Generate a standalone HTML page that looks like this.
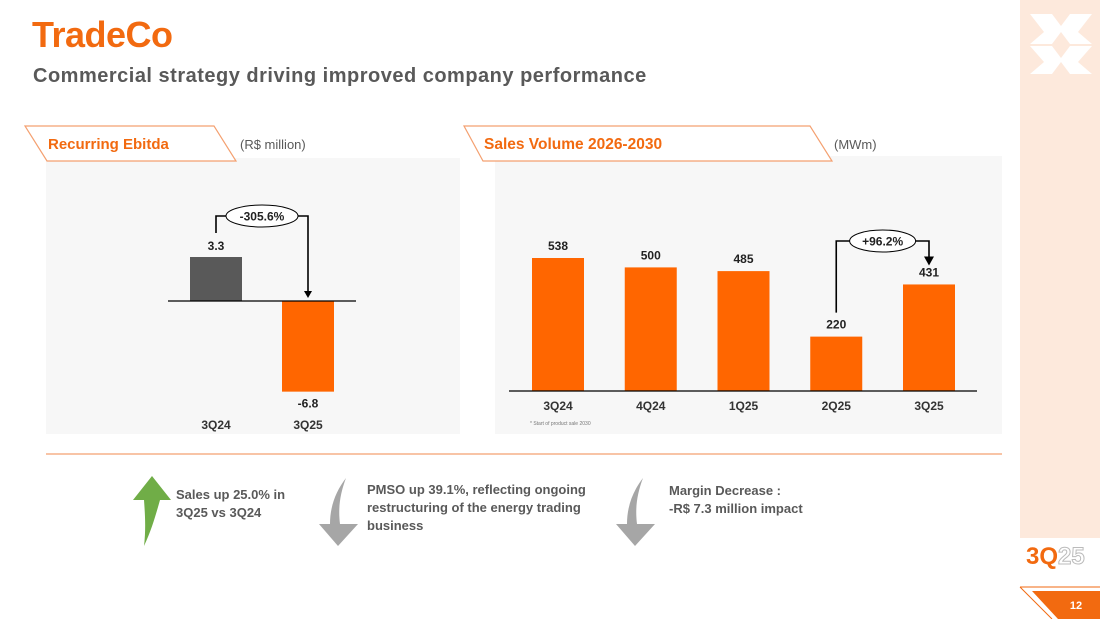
<!DOCTYPE html>
<html><head><meta charset="utf-8"><style>
body{margin:0;width:1100px;height:619px;background:#fff;font-family:"Liberation Sans",sans-serif;overflow:hidden;position:relative}
.a{position:absolute}
.t{font-weight:bold;color:#595959;font-size:13px;line-height:18px}
</style></head><body>
<div class="a" style="left:32px;top:14px;font-size:36px;font-weight:bold;color:#f26a10;letter-spacing:-0.5px">TradeCo</div>
<div class="a" style="left:33px;top:65px;font-size:20px;font-weight:bold;color:#595959;letter-spacing:0.5px">Commercial strategy driving improved company performance</div>
<div class="a" style="left:1020px;top:0;width:80px;height:538px;background:#fde9dc"></div>
<svg class="a" style="left:1028px;top:12px" width="66" height="64" viewBox="0 0 66 64"><g fill="#fff"><polygon points="2,2 24,2 33,14 42,2 64,2 50,20 64,32 42,32 33,20 24,32 2,32 16,20"/><polygon points="2,34 24,34 33,46 42,34 64,34 50,50 64,62 42,62 33,50 24,62 2,62 16,50"/></g></svg>
<div class="a" style="left:1026px;top:543px;font-size:24px;font-weight:bold;color:#f26a10">3Q<span style="color:#fff;-webkit-text-stroke:1px #bbb">25</span></div>
<svg class="a" style="left:1018px;top:585px" width="82" height="34"><line x1="2" y1="2" x2="34" y2="34" stroke="#f26a10"/><line x1="2" y1="2" x2="82" y2="2" stroke="#f26a10"/><polygon points="14,6 82,6 82,34 40,34" fill="#f26a10"/><text x="58" y="24" font-size="11" font-weight="bold" fill="#fff" text-anchor="middle" font-family="Liberation Sans">12</text></svg>
<div class="a" style="left:46px;top:158px;width:414px;height:276px;background:#f7f7f7"></div>
<div class="a" style="left:495px;top:156px;width:507px;height:278px;background:#f7f7f7"></div>
<svg class="a" style="left:0;top:0" width="1100" height="619">
<polygon points="25,126 214,126 236,161 47,161" fill="#fff" stroke="#f4a070" stroke-width="1.2"/>
<polygon points="464,126 810,126 832,161 483,161" fill="#fff" stroke="#f4a070" stroke-width="1.2"/>
<line x1="46" y1="454" x2="1002" y2="454" stroke="#f4a070" stroke-width="1.2"/>
</svg>
<div class="a" style="left:48px;top:136px;font-size:15px;font-weight:bold;color:#f26a10">Recurring Ebitda</div>
<div class="a" style="left:240px;top:137px;font-size:13px;color:#595959">(R$ million)</div>
<div class="a" style="left:484px;top:136px;font-size:15.5px;font-weight:bold;color:#f26a10">Sales Volume 2026-2030</div>
<div class="a" style="left:834px;top:137px;font-size:13px;color:#595959">(MWm)</div>
<svg id="c1" class="a" style="left:0;top:0" width="1100" height="619"></svg>
<svg id="c2" class="a" style="left:0;top:0" width="1100" height="619"></svg>
<div class="a" style="left:530px;top:421px;font-size:5px;color:#777">* Start of product sale 2030</div>
<svg class="a" style="left:130px;top:474px" width="44" height="74"><path d="M3,26 L22,2 L41,26 L30,26 C26,40 22,55 14,72 C16,55 15,40 14,26 Z" fill="#70ad47"/></svg>
<div class="a t" style="left:176px;top:486px">Sales up 25.0% in<br>3Q25 vs 3Q24</div>
<svg class="a" style="left:318px;top:476px" width="42" height="72"><path d="M28,2 C22,18 20,32 22,48 L40,48 L20,70 L1,48 L12,48 C12,30 18,15 28,2 Z" fill="#a6a6a6"/></svg>
<div class="a t" style="left:367px;top:481px">PMSO up 39.1%, reflecting ongoing<br>restructuring of the energy trading<br>business</div>
<svg class="a" style="left:615px;top:476px" width="42" height="72"><path d="M28,2 C22,18 20,32 22,48 L40,48 L20,70 L1,48 L12,48 C12,30 18,15 28,2 Z" fill="#a6a6a6"/></svg>
<div class="a t" style="left:669px;top:482px">Margin Decrease :<br>-R$ 7.3 million impact</div>
<script>
const ebitdaCats=["3Q24","3Q25"];
const ebitdaVals=[3.3,-6.8];
const ebitdaLabels=["3.3","-6.8"];
const ebitdaChange="-305.6%";
const volCats=["3Q24","4Q24","1Q25","2Q25","3Q25"];
const volVals=[538,500,485,220,431];
const volChange="+96.2%";
const NS="http://www.w3.org/2000/svg";
function mk(svg,tag,at,txt){const e=document.createElementNS(NS,tag);for(const k in at)e.setAttribute(k,at[k]);if(txt!==undefined)e.textContent=txt;svg.appendChild(e);return e;}
// chart 1
(function(){
const s=document.getElementById('c1');
const y0=301,k=13.33;const xs=[216,308];const w=52;
const y=v=>y0-v*k;
ebitdaVals.forEach((v,i)=>{
 const r=mk(s,'rect',{x:xs[i]-w/2,y:Math.min(y(v),y0),width:w,height:Math.abs(y(v)-y0),fill:i==0?'#595959':'#ff6600'});
 
 
 const ly=v>=0?y(v)-7:y(v)+16;
 const t=mk(s,'text',{x:xs[i],y:ly,'text-anchor':'middle','font-size':12,'font-weight':'bold',fill:'#222','font-family':'Liberation Sans'},ebitdaLabels[i]);
 
 
 const c=mk(s,'text',{x:xs[i],y:429,'text-anchor':'middle','font-size':12,'font-weight':'bold',fill:'#333','font-family':'Liberation Sans'},ebitdaCats[i]);
 
 
});
const ax=mk(s,'line',{x1:168,y1:y0,x2:356,y2:y0,stroke:'#000','stroke-width':1.2});


const top=216;
const p=mk(s,'path',{d:`M${xs[0]},${y(ebitdaVals[0])-24} V${top} H${xs[1]} V${y0-8}`,fill:'none',stroke:'#000','stroke-width':1.6});


mk(s,'polygon',{points:`${xs[1]-4},${y0-10} ${xs[1]+4},${y0-10} ${xs[1]},${y0-3}`,fill:'#000'});
const el=mk(s,'ellipse',{cx:(xs[0]+xs[1])/2,cy:top,rx:36,ry:11,fill:'#fff',stroke:'#000'});


mk(s,'text',{x:(xs[0]+xs[1])/2,y:top+4.5,'text-anchor':'middle','font-size':12,'font-weight':'bold',fill:'#222','font-family':'Liberation Sans'},ebitdaChange);
})();
// chart 2
(function(){
const s=document.getElementById('c2');
const y0=391,k=0.2472,x0=558,dx=92.75,w=52;
const y=v=>y0-v*k;const x=i=>x0+i*dx;
volVals.forEach((v,i)=>{
 const r=mk(s,'rect',{x:x(i)-w/2,y:y(v),width:w,height:y0-y(v),fill:'#ff6600'});
 
 
 const t=mk(s,'text',{x:x(i),y:y(v)-8,'text-anchor':'middle','font-size':12,'font-weight':'bold',fill:'#222','font-family':'Liberation Sans'},String(v));
 
 
 const c=mk(s,'text',{x:x(i),y:410,'text-anchor':'middle','font-size':12,'font-weight':'bold',fill:'#333','font-family':'Liberation Sans'},volCats[i]);
 
 
});
const ax=mk(s,'line',{x1:509,y1:y0,x2:977,y2:y0,stroke:'#000','stroke-width':1.2});


const a=3,b=4,top=241;
const p=mk(s,'path',{d:`M${x(a)},${y(volVals[a])-24} V${top} H${x(b)} V${y(volVals[b])-26}`,fill:'none',stroke:'#000','stroke-width':1.6});


const ay=y(volVals[b])-24;
mk(s,'polygon',{points:`${x(b)-5},${ay-4} ${x(b)+5},${ay-4} ${x(b)},${ay+5}`,fill:'#000'});
const el=mk(s,'ellipse',{cx:(x(a)+x(b))/2,cy:top,rx:33,ry:11,fill:'#fff',stroke:'#000'});


mk(s,'text',{x:(x(a)+x(b))/2,y:top+4.5,'text-anchor':'middle','font-size':12,'font-weight':'bold',fill:'#222','font-family':'Liberation Sans'},volChange);
})();
</script>
</body></html>
